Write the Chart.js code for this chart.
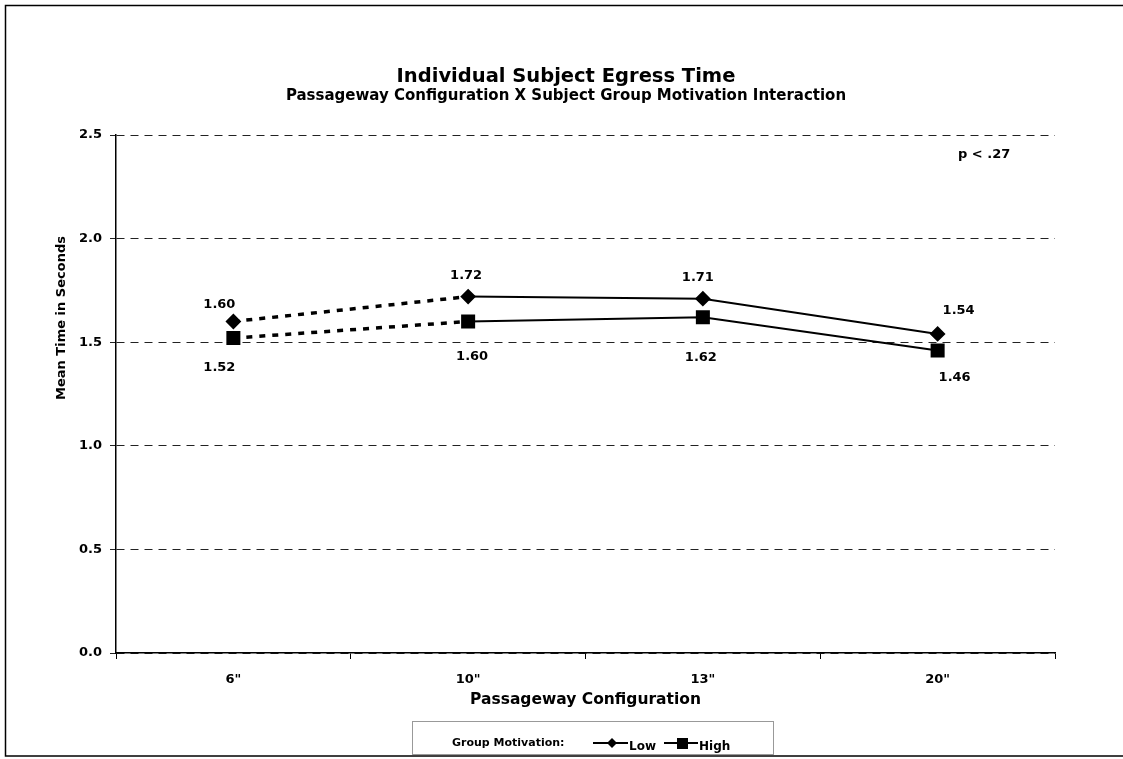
<!DOCTYPE html>
<html>
<head>
<meta charset="utf-8">
<script src="https://cdn.jsdelivr.net/npm/chart.js@4/dist/chart.umd.min.js"></script>
<style>
  html, body { margin: 0; padding: 0; background: #fff; }
  #wrap { width: 1123px; height: 759px; }
</style>
</head>
<body>
<div id="wrap"><canvas id="myCanvas" width="1123" height="759"></canvas></div>
<script>
// data
var configs = ['6"', '10"', '13"', '20"'];
var lowMotivation = [1.60, 1.72, 1.71, 1.54];
var highMotivation = [1.52, 1.60, 1.62, 1.46];
var yTicks = [0, 0.5, 1.0, 1.5, 2.0, 2.5];

// where each value label sits relative to its point (dx, dy in px)
var lowLabelShift = [[-14, -17], [-2, -21], [-5, -21], [21, -23]];
var highLabelShift = [[-14, 30], [4, 35], [-2, 40], [17, 27]];

var FONT = "'DejaVu Sans', sans-serif";

// first segment (6" to 10") is drawn dashed and heavier
function firstDash(c) { return c.p0DataIndex === 0 ? [6, 7] : undefined; }
function firstWidth(c) { return c.p0DataIndex === 0 ? 3.5 : 2; }

var extras = {
  id: 'extras',
  afterDatasetsDraw: function(chart) {
    var ctx = chart.ctx;
    var x = chart.scales.x, y = chart.scales.y;
    ctx.save();
    ctx.fillStyle = '#000';
    ctx.font = 'bold 13px ' + FONT;
    ctx.textAlign = 'center';
    ctx.textBaseline = 'middle';
    for (var i = 0; i < configs.length; i++) {
      var px = x.getPixelForValue(i);
      ctx.fillText(lowMotivation[i].toFixed(2), px + lowLabelShift[i][0], y.getPixelForValue(lowMotivation[i]) + lowLabelShift[i][1]);
      ctx.fillText(highMotivation[i].toFixed(2), px + highLabelShift[i][0], y.getPixelForValue(highMotivation[i]) + highLabelShift[i][1]);
    }
    // p value
    ctx.textAlign = 'left';
    ctx.fillText('p < .27', 958, 155);

    // y axis title
    ctx.save();
    ctx.translate(62, 318);
    ctx.rotate(-Math.PI / 2);
    ctx.textAlign = 'center';
    ctx.fillText('Mean Time in Seconds', 0, 0);
    ctx.restore();

    // outer frame
    ctx.strokeStyle = '#000';
    ctx.lineWidth = 1.5;
    ctx.strokeRect(5.5, 5.5, 1140, 750.5);

    // legend box
    ctx.lineWidth = 1;
    ctx.setLineDash([1, 1]);
    ctx.strokeStyle = '#333';
    ctx.strokeRect(412.5, 721.5, 361, 33);
    ctx.setLineDash([]);
    ctx.font = 'bold 11px ' + FONT;
    ctx.textAlign = 'left';
    ctx.fillText('Group Motivation:', 452, 743);
    ctx.lineWidth = 2;
    ctx.strokeStyle = '#000';
    ctx.beginPath(); ctx.moveTo(593, 743); ctx.lineTo(628, 743); ctx.stroke();
    ctx.beginPath();
    ctx.moveTo(612, 738); ctx.lineTo(617, 743); ctx.lineTo(612, 748); ctx.lineTo(607, 743); ctx.closePath(); ctx.fill();
    ctx.beginPath(); ctx.moveTo(664, 743); ctx.lineTo(698, 743); ctx.stroke();
    ctx.fillRect(677, 738, 11, 11);
    ctx.font = 'bold 12px ' + FONT;
    ctx.fillText('Low', 629, 747);
    ctx.fillText('High', 699, 747);
    ctx.restore();
  }
};

var data = {
  labels: configs,
  datasets: [
    {
      label: 'Low',
      data: lowMotivation,
      borderColor: '#000',
      backgroundColor: '#000',
      borderWidth: 2,
      pointStyle: 'rectRot',
      pointRadius: 6.5,
      pointHoverRadius: 6.5,
      segment: { borderDash: firstDash, borderWidth: firstWidth }
    },
    {
      label: 'High',
      data: highMotivation,
      borderColor: '#000',
      backgroundColor: '#000',
      borderWidth: 2,
      pointStyle: 'rect',
      pointRadius: 8.5,
      pointHoverRadius: 8.5,
      segment: { borderDash: firstDash, borderWidth: firstWidth }
    }
  ]
};

var options = {
  responsive: false,
  animation: false,
  // left padding shifts the title centre to match the original
  layout: { padding: { left: 77, right: 68, top: 0, bottom: 47 } },
  plugins: {
    legend: { display: false },
    tooltip: { enabled: false },
    title: {
      display: true,
      text: 'Individual Subject Egress Time',
      color: '#000',
      font: { family: FONT, size: 19.5, weight: 'bold', lineHeight: 1 },
      padding: { top: 67, bottom: 2 }
    },
    subtitle: {
      display: true,
      text: 'Passageway Configuration X Subject Group Motivation Interaction',
      color: '#000',
      font: { family: FONT, size: 15, weight: 'bold', lineHeight: 1 },
      padding: { top: 0, bottom: 31.5 }
    }
  },
  scales: {
    x: {
      offset: true,
      grid: { display: true, drawOnChartArea: false, color: '#000', tickLength: 6, offset: true },
      border: { color: '#000', width: 1.5 },
      ticks: { color: '#000', font: { family: FONT, size: 13, weight: 'bold' }, padding: 13 },
      title: {
        display: true,
        text: 'Passageway Configuration',
        color: '#000',
        font: { family: FONT, size: 15.5, weight: 'bold' },
        padding: { top: 0, bottom: 3 }
      },
      afterFit: function(s) { s.height = 59; }
    },
    y: {
      min: 0,
      max: 2.5,
      afterBuildTicks: function(s) { s.ticks = yTicks.map(function(v) { return { value: v }; }); },
      grid: { color: '#222', lineWidth: 1, tickLength: 6 },
      border: { color: '#000', width: 1.5, dash: [8, 6] },
      ticks: {
        color: '#000',
        font: { family: FONT, size: 13, weight: 'bold' },
        padding: 8,
        callback: function(v) { return Number(v).toFixed(1); }
      },
      afterFit: function(s) { s.width = 39; }
    }
  }
};

var chart = new Chart(document.getElementById('myCanvas').getContext('2d'), {
  type: 'line',
  data: data,
  options: options,
  plugins: [extras]
});
</script>
</body>
</html>
